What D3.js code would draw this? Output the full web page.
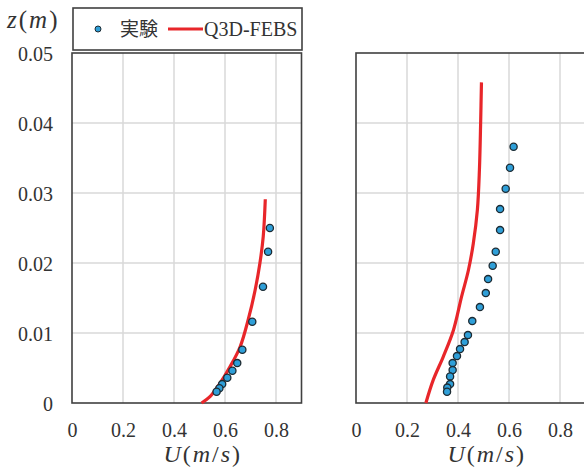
<!DOCTYPE html>
<html>
<head>
<meta charset="utf-8" />
<title>U(z) profile</title>
<style>
html, body { margin: 0; padding: 0; background: #fff; }
#chart { width: 584px; height: 468px; }
</style>
</head>
<body>
<div id="chart"></div>
<script src="https://cdn.jsdelivr.net/npm/d3@7/dist/d3.min.js"></script>
<script>
// left panel: experiment points and Q3D-FEBS curve
var leftExpU = [0.776, 0.769, 0.749, 0.707, 0.668, 0.648, 0.629, 0.609, 0.589, 0.578, 0.567]
var leftExpZ = [0.0250, 0.0216, 0.0166, 0.0116, 0.0076, 0.0057, 0.0046, 0.0036, 0.0027, 0.0021, 0.0016]
var leftSimU = [0.508, 0.541, 0.580, 0.620, 0.659, 0.691, 0.718, 0.737, 0.750, 0.758]
var leftSimZ = [0.0000, 0.0009, 0.0028, 0.0052, 0.0080, 0.0119, 0.0161, 0.0200, 0.0238, 0.0291]

// right panel
var rightExpU = [0.618, 0.604, 0.587, 0.565, 0.565, 0.548, 0.536, 0.518, 0.509, 0.486, 0.456,
                 0.439, 0.426, 0.408, 0.396, 0.379, 0.379, 0.369, 0.369, 0.358, 0.357]
var rightExpZ = [0.0366, 0.0336, 0.0306, 0.0277, 0.0247, 0.0216, 0.0196, 0.0177, 0.0157, 0.0137, 0.0117,
                 0.0097, 0.0087, 0.0077, 0.0067, 0.0057, 0.0047, 0.0038, 0.0027, 0.0022, 0.0016]
var rightSimU = [0.274, 0.303, 0.342, 0.382, 0.414, 0.441, 0.460, 0.476, 0.484, 0.489, 0.492]
var rightSimZ = [0.0000, 0.0033, 0.0066, 0.0104, 0.0152, 0.0190, 0.0228, 0.0276, 0.0333, 0.0404, 0.0458]

var xTicks = [0, 0.2, 0.4, 0.6, 0.8]
var yTicks = [0, 0.01, 0.02, 0.03, 0.04, 0.05]
var legendLabels = ["実験", "Q3D-FEBS"]

var serif = "Liberation Serif, serif"
var cjk = "Noto Sans CJK JP, Noto Sans CJK SC, sans-serif"
var textColor = "#333"
var frameColor = "#404040"
var gridColor = "#d9d9d9"
var dotColor = "#2f9fd8"
var lineColor = "#e8262a"

var svg = d3.select("#chart").append("svg")
    .attr("width", 584).attr("height", 468)

var y = d3.scaleLinear().domain([0, 0.05]).range([403, 53])

var panels = [
    { left: 72, right: 301.5, expU: leftExpU, expZ: leftExpZ, simU: leftSimU, simZ: leftSimZ, yLabels: true },
    { left: 356, right: 585.5, expU: rightExpU, expZ: rightExpZ, simU: rightSimU, simZ: rightSimZ, yLabels: false }
]

panels.forEach(function(p) {
    var x = d3.scaleLinear().domain([0, 0.9]).range([p.left, p.right])
    var g = svg.append("g")

    // grid
    g.selectAll(".vg").data(xTicks.slice(1)).enter().append("line")
        .attr("x1", function(d) { return x(d) }).attr("x2", function(d) { return x(d) })
        .attr("y1", y(0.05)).attr("y2", y(0))
        .attr("stroke", gridColor).attr("stroke-width", 1.5)
    g.selectAll(".hg").data(yTicks.slice(1, -1)).enter().append("line")
        .attr("x1", p.left).attr("x2", p.right)
        .attr("y1", function(d) { return y(d) }).attr("y2", function(d) { return y(d) })
        .attr("stroke", gridColor).attr("stroke-width", 1.5)

    // frame
    g.append("rect")
        .attr("x", p.left).attr("y", y(0.05))
        .attr("width", p.right - p.left).attr("height", y(0) - y(0.05))
        .attr("fill", "none").attr("stroke", frameColor).attr("stroke-width", 1.6)

    // x axis labels
    var xAxis = d3.axisBottom(x).tickValues(xTicks).tickSize(0).tickPadding(0)
        .tickFormat(d3.format("~g"))
    var ax = g.append("g").attr("transform", "translate(0,437)").call(xAxis)
        .attr("font-family", serif).attr("font-size", 20)
    ax.select(".domain").remove()
    ax.selectAll("text").attr("fill", textColor).attr("dy", 0)

    if (p.yLabels) {
        var yAxis = d3.axisLeft(y).tickValues(yTicks).tickSize(0).tickPadding(0)
            .tickFormat(d3.format("~g"))
        var ay = g.append("g").attr("transform", "translate(53,0)").call(yAxis)
            .attr("font-family", serif).attr("font-size", 20)
        ay.select(".domain").remove()
        ay.selectAll("text").attr("fill", textColor).attr("dy", "0.35em")
    }

    // simulation curve
    var line = d3.line()
        .x(function(d, i) { return x(p.simU[i]) })
        .y(function(d, i) { return y(p.simZ[i]) })
        .curve(d3.curveCatmullRom)
    g.append("path").datum(p.simU).attr("d", line)
        .attr("fill", "none").attr("stroke", lineColor).attr("stroke-width", 3.2)

    // experiment points
    g.selectAll(".dot").data(p.expU).enter().append("circle")
        .attr("cx", function(d) { return x(d) })
        .attr("cy", function(d, i) { return y(p.expZ[i]) })
        .attr("r", 3.6)
        .attr("fill", dotColor).attr("stroke", "#1d2b33").attr("stroke-width", 1.3)

    // x title
    var t = g.append("text")
        .attr("x", (p.left + p.right) / 2 + 16).attr("y", 462)
        .attr("text-anchor", "middle")
        .attr("font-family", serif).attr("font-size", 24).attr("fill", textColor)
        .attr("letter-spacing", 2)
    t.append("tspan").attr("font-style", "italic").text("U")
    t.append("tspan").text("(")
    t.append("tspan").attr("font-style", "italic").text("m")
    t.append("tspan").text("/")
    t.append("tspan").attr("font-style", "italic").text("s")
    t.append("tspan").text(")")
})

// y title
var zt = svg.append("text").attr("x", 7).attr("y", 28)
    .attr("font-family", serif).attr("font-size", 25).attr("fill", textColor)
    .attr("letter-spacing", 2)
zt.append("tspan").attr("font-style", "italic").text("z")
zt.append("tspan").text("(")
zt.append("tspan").attr("font-style", "italic").text("m")
zt.append("tspan").text(")")

// legend
var lg = svg.append("g")
lg.append("rect").attr("x", 73).attr("y", 8).attr("width", 229).attr("height", 42)
    .attr("fill", "#fff").attr("stroke", frameColor).attr("stroke-width", 1.6)
lg.append("circle").attr("cx", 98).attr("cy", 29).attr("r", 3)
    .attr("fill", dotColor).attr("stroke", "#1d2b33").attr("stroke-width", 1)
lg.append("text").attr("x", 120).attr("y", 36)
    .attr("font-family", cjk).attr("font-size", 19).attr("fill", textColor)
    .text(legendLabels[0])
lg.append("line").attr("x1", 168).attr("x2", 203).attr("y1", 29).attr("y2", 29)
    .attr("stroke", lineColor).attr("stroke-width", 3)
lg.append("text").attr("x", 204).attr("y", 36)
    .attr("font-family", serif).attr("font-size", 20).attr("fill", textColor)
    .text(legendLabels[1])
</script>
</body>
</html>
